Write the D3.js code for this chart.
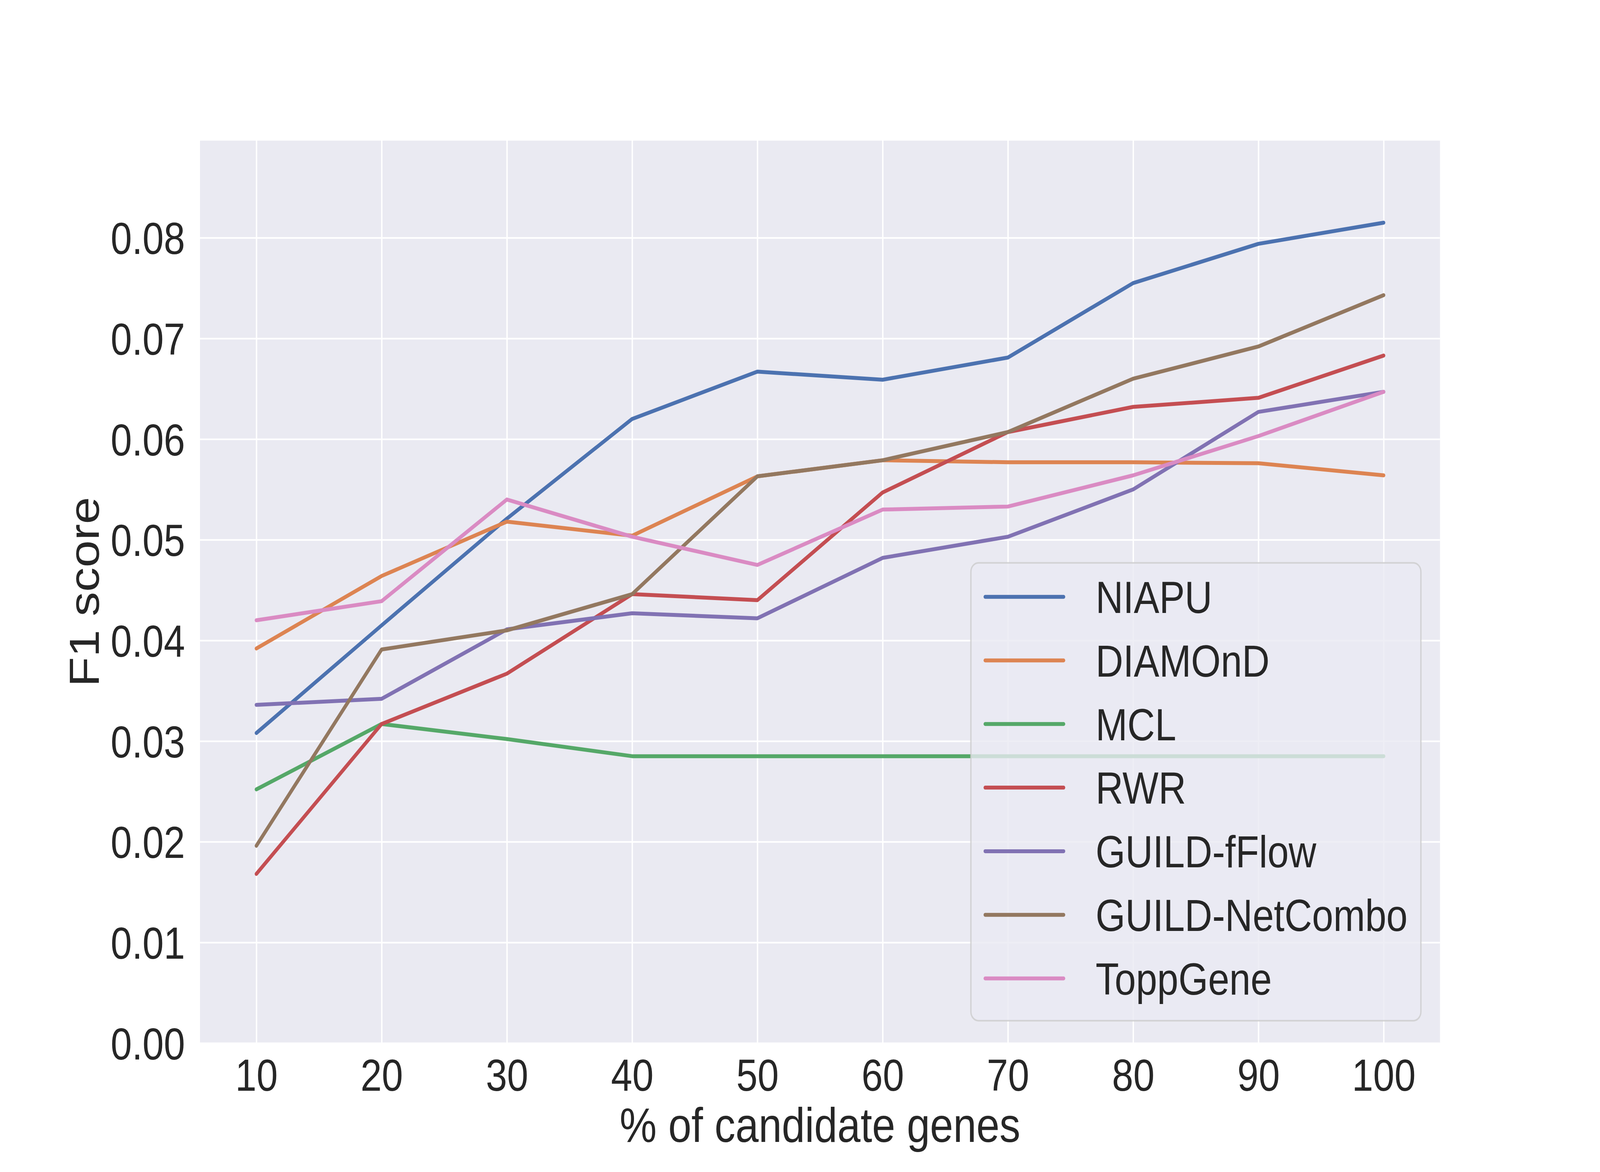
<!DOCTYPE html>
<html>
<head>
<meta charset="utf-8">
<script src="https://cdn.jsdelivr.net/npm/d3@7"></script>
<style>
    html, body { margin: 0; padding: 0; background: white; overflow: hidden; }
    #chart svg { display: block; width: 100vw; height: 100vh; }
    text { font-family: Arial, 'Liberation Sans', sans-serif; fill: #262626; }
</style>
</head>
<body>
<div id="chart"></div>
<script>
let percentages = [10, 20, 30, 40, 50, 60, 70, 80, 90, 100]
let methods = ['NIAPU', 'DIAMOnD', 'MCL', 'RWR', 'GUILD-fFlow', 'GUILD-NetCombo', 'ToppGene']
let colors = ['#4C72B0', '#DD8452', '#55A868', '#C44E52', '#8172B3', '#937860', '#DA8BC3']

let niapu = [0.0308, 0.0415, 0.0521, 0.0620, 0.0667, 0.0659, 0.0681, 0.0755, 0.0794, 0.0815]
let diamond = [0.0392, 0.0464, 0.0518, 0.0504, 0.0563, 0.0579, 0.0577, 0.0577, 0.0576, 0.0564]
let mcl = [0.0252, 0.0317, 0.0302, 0.0285, 0.0285, 0.0285, 0.0285, 0.0285, 0.0285, 0.0285]
let rwr = [0.0168, 0.0317, 0.0367, 0.0446, 0.0440, 0.0547, 0.0607, 0.0632, 0.0641, 0.0683]
let fflow = [0.0336, 0.0342, 0.0411, 0.0427, 0.0422, 0.0482, 0.0503, 0.0550, 0.0627, 0.0647]
let netcombo = [0.0196, 0.0391, 0.0410, 0.0446, 0.0563, 0.0579, 0.0607, 0.0660, 0.0692, 0.0743]
let toppgene = [0.0420, 0.0439, 0.0540, 0.0503, 0.0475, 0.0530, 0.0533, 0.0564, 0.0603, 0.0647]

let yTicks = [0.00, 0.01, 0.02, 0.03, 0.04, 0.05, 0.06, 0.07, 0.08]

let series = [niapu, diamond, mcl, rwr, fflow, netcombo, toppgene]

let width = 4800, height = 3000
let margin = {left: 600, right: 480, top: 360, bottom: 330}
let plotW = width - margin.left - margin.right
let plotH = height - margin.top - margin.bottom
let tickFont = 114.6, labelFont = 125

// the figure is drawn in 4800x3000 units and stretched onto the window,
// the browser only gives 4096 px of width so it has to fill whatever it gets
let svg = d3.select('#chart').append('svg')
    .attr('viewBox', `0 0 ${width} ${height}`)
    .attr('preserveAspectRatio', 'none')

let g = svg.append('g').attr('transform', `translate(${margin.left}, ${margin.top})`)

// same padding matplotlib puts on the x range
let xPad = (d3.max(percentages) - d3.min(percentages)) * 0.05
let x = d3.scaleLinear()
    .domain([d3.min(percentages) - xPad, d3.max(percentages) + xPad])
    .range([0, plotW])
let y = d3.scaleLinear()
    .domain([0, d3.max(series.flat()) * 1.1])
    .range([plotH, 0])

g.append('rect')
    .attr('width', plotW)
    .attr('height', plotH)
    .style('fill', '#EAEAF2')

// grid
g.append('g').call(d3.axisBottom(x).tickValues(percentages).tickSize(plotH).tickFormat(''))
    .call(a => a.select('.domain').remove())
    .call(a => a.selectAll('line').attr('stroke', 'white').attr('stroke-width', 4.2))
g.append('g').call(d3.axisLeft(y).tickValues(yTicks).tickSize(-plotW).tickFormat(''))
    .call(a => a.select('.domain').remove())
    .call(a => a.selectAll('line').attr('stroke', 'white').attr('stroke-width', 4.2))

// tick labels
let xAxis = g.append('g').attr('transform', `translate(0, ${plotH})`)
    .call(d3.axisBottom(x).tickValues(percentages).tickSize(0).tickPadding(0).tickFormat(d3.format('d')))
xAxis.select('.domain').remove()
xAxis.selectAll('text')
    .attr('y', 122)
    .attr('dy', null)
    .style('font-size', tickFont + 'px')
    .attr('fill', '#262626')

let yAxis = g.append('g')
    .call(d3.axisLeft(y).tickValues(yTicks).tickSize(0).tickPadding(0).tickFormat(d3.format('.2f')))
yAxis.select('.domain').remove()
yAxis.selectAll('text')
    .attr('x', -45)
    .attr('dy', '0.36em')
    .style('font-size', tickFont + 'px')
    .attr('fill', '#262626')

svg.append('text')
    .attr('x', margin.left + plotW / 2)
    .attr('y', 2923)
    .attr('text-anchor', 'middle')
    .style('font-size', labelFont + 'px')
    .text('% of candidate genes')

svg.append('text')
    .attr('transform', `translate(296, ${margin.top + plotH / 2}) rotate(-90)`)
    .attr('text-anchor', 'middle')
    .style('font-size', labelFont + 'px')
    .text('F1 score')

// lines
let line = d3.line()
    .x((d, i) => x(percentages[i]))
    .y(d => y(d))

g.append('g').selectAll('path')
    .data(series)
    .join('path')
    .attr('d', line)
    .attr('fill', 'none')
    .attr('stroke', (d, i) => colors[i])
    .attr('stroke-width', 10)
    .attr('stroke-linejoin', 'round')
    .attr('stroke-linecap', 'round')

// legend, lower right
let pad = tickFont * 0.5
let legW = 1350, legH = 1172
let rowH = 162.8
let legend = g.append('g')
    .attr('transform', `translate(${plotW - pad - legW}, ${plotH - pad - legH})`)

legend.append('rect')
    .attr('width', legW)
    .attr('height', legH)
    .attr('rx', 23)
    .style('fill', '#EAEAF2')
    .style('fill-opacity', 0.8)
    .attr('stroke', '#cccccc')
    .attr('stroke-opacity', 0.8)
    .attr('stroke-width', 4)

let rows = legend.selectAll('.row')
    .data(methods)
    .join('g')
    .attr('class', 'row')
    .attr('transform', (d, i) => `translate(0, ${87 + i * rowH})`)

rows.append('line')
    .attr('x1', 43)
    .attr('x2', 278)
    .attr('stroke', (d, i) => colors[i])
    .attr('stroke-width', 10)
    .attr('stroke-linecap', 'round')

rows.append('text')
    .attr('x', 374)
    .attr('dy', '0.36em')
    .style('font-size', tickFont + 'px')
    .text(d => d)
</script>
</body>
</html>
